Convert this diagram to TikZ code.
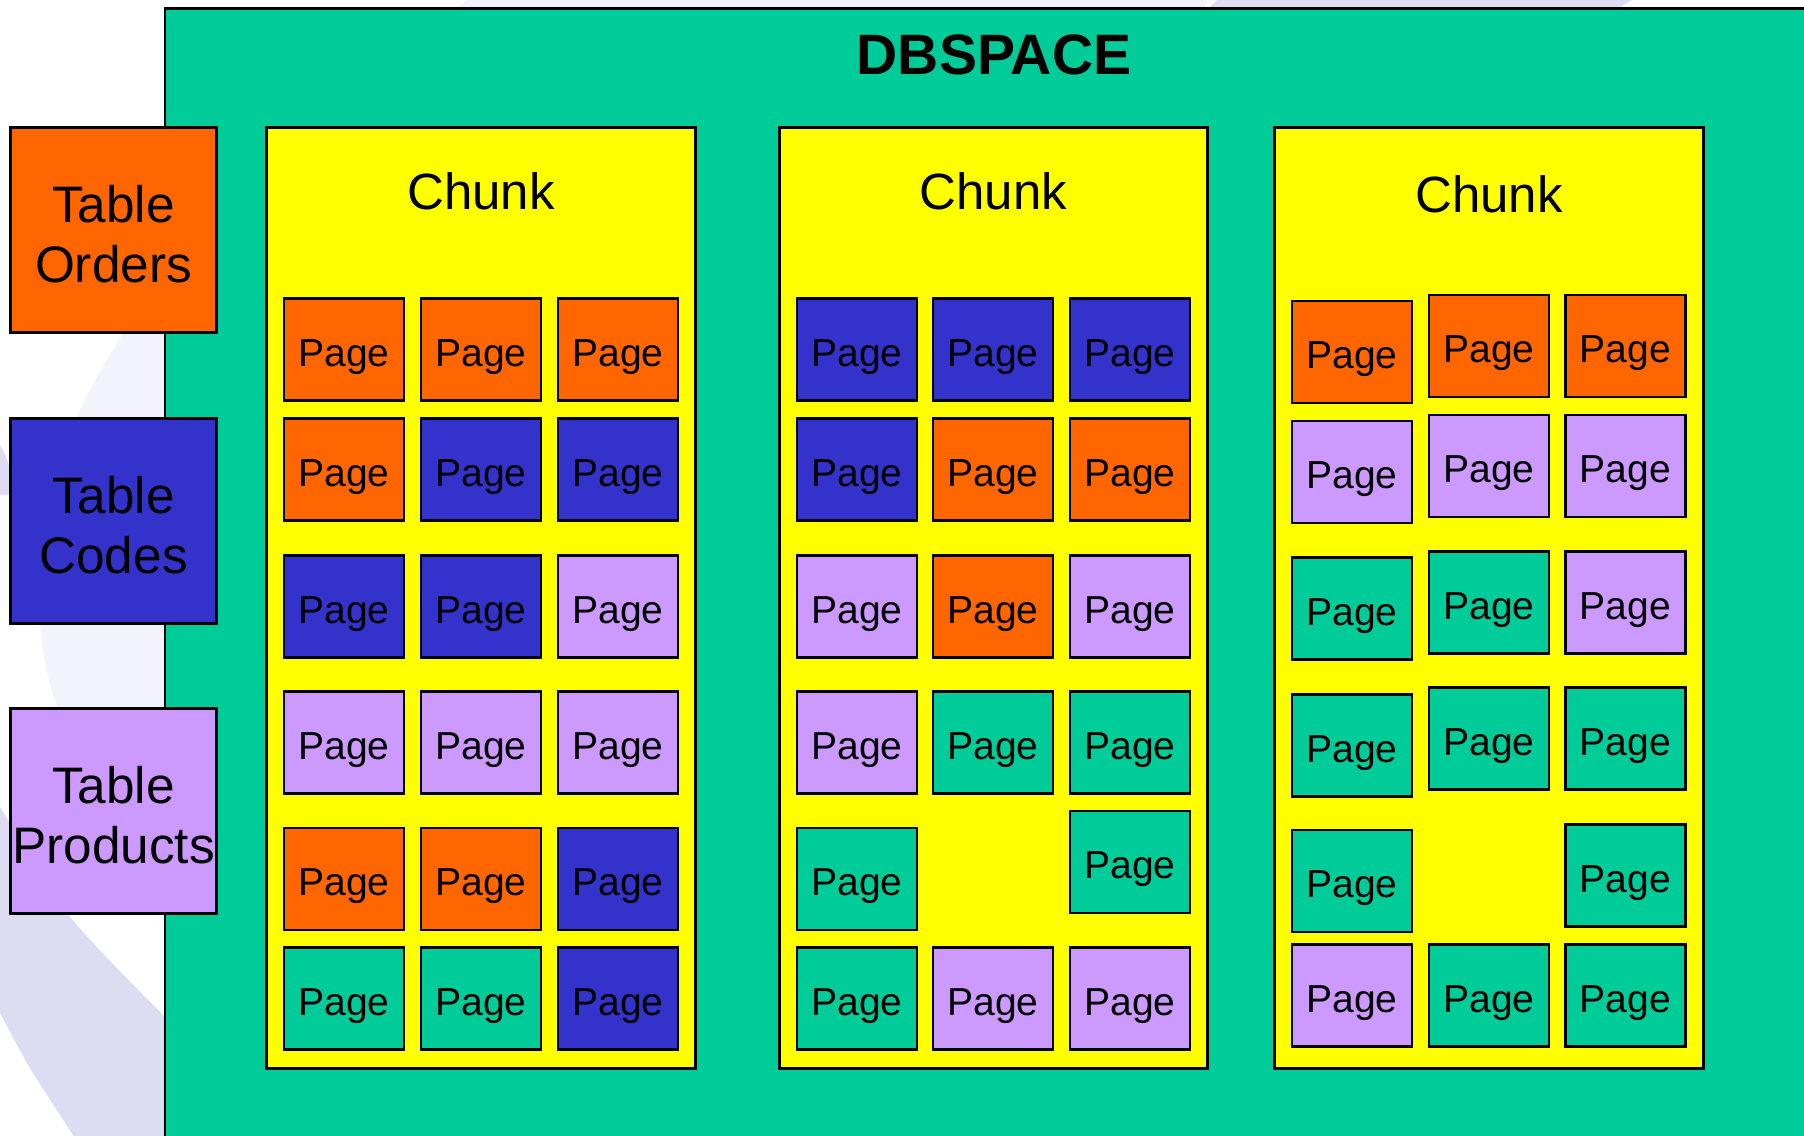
\documentclass[tikz,border=0pt]{standalone}
\usepackage{fontspec}
\setmainfont{Liberation Sans}
\usepackage{xcolor}
\usetikzlibrary{positioning}
\definecolor{ordcol}{HTML}{FF6600}
\definecolor{codcol}{HTML}{3333CC}
\definecolor{prdcol}{HTML}{CC99FF}
\definecolor{spacecol}{HTML}{00CC99}
\definecolor{chunkcol}{HTML}{FFFF00}
\definecolor{bgpale}{HTML}{F3F3FC}
\definecolor{bgdark}{HTML}{DCDCF2}

\begin{document}
\begin{tikzpicture}[
  x=0.01cm, y=-0.01cm,
  page/.style={draw,line width=0.8pt,minimum width=1.2cm,minimum height=1.02cm,inner sep=0pt,text height=9.4pt,text depth=0pt,font=\fontsize{11.1}{13}\selectfont},
  chunkbox/.style={draw,line width=0.85pt,fill=chunkcol,minimum height=9.4cm,inner sep=0pt},
  chunktxt/.style={anchor=base,font=\fontsize{14.5}{17}\selectfont},
  tbl/.style={draw,line width=0.85pt,minimum width=2.05cm,minimum height=2.05cm,inner sep=0pt,align=center,font=\fontsize{14.6}{17.1}\selectfont}
]
  \useasboundingbox (0,0) rectangle (1804,1135);
  \clip (0,0) rectangle (1804,1135);
  \fill[white] (0,0) rectangle (1804,1135);
  % background swooshes
  \fill[bgpale] plot[smooth] coordinates {(500,-20) (300,110) (180,240) (123,333) (77,417) (48,520) (40,623) (58,708) (110,790) (190,870)} -- (900,900) -- (1214,-20) -- cycle;
  \fill[bgdark] (1205,12) -- (1222,-5) -- (1640,-5) -- (1612,12) -- cycle;
  \fill[bgdark] (-5,438) .. controls (6,452) and (12,470) .. (14,495) -- (-5,495) -- cycle;
  \fill[bgdark] plot[smooth] coordinates {(-30,760) (0,807) (67,913) (163,1015) (240,1090)} -- (300,1160) -- plot[smooth] coordinates {(88,1160) (73,1135) (30,1068) (0,1013) (-30,960)} -- cycle;
  % dbspace
  \draw[line width=0.85pt,fill=spacecol] (165,8) rectangle (1840,1170);
  \node[anchor=base,font=\fontsize{16.2}{19}\selectfont\bfseries] (dbs) at (994,74) {DBSPACE};
  % tables
  \node[tbl,fill=ordcol] (tord) at (113.5,230) {\rule{0pt}{12.8pt}Table\\Orders};
  \node[tbl,fill=codcol] (tcod) at (113.5,521) {\rule{0pt}{12.8pt}Table\\Codes};
  \node[tbl,fill=prdcol] (tprd) at (113.5,811) {\rule{0pt}{12.8pt}Table\\Products};
  % chunks
  \node[chunkbox,minimum width=4.28cm] (ch1) at (481,598) {};
  \node[chunkbox,minimum width=4.27cm] (ch2) at (993.5,598) {};
  \node[chunkbox,minimum width=4.28cm] (ch3) at (1489,598) {};
  \node[chunktxt] (ct1) at (ch1.center |- 0,209) {Chunk};
  \node[chunktxt] (ct2) at (ch2.center |- 0,209) {Chunk};
  \node[chunktxt] (ct3) at (ch3.center |- 0,212) {Chunk};
  % pages
  \foreach \px/\py/\pc [count=\i] in {
    344/349.5/ordcol, 481/349.5/ordcol, 618/349.5/ordcol,
    344/469.5/ordcol, 481/469.5/codcol, 618/469.5/codcol,
    344/606.5/codcol, 481/606.5/codcol, 618/606.5/prdcol,
    344/742.5/prdcol, 481/742.5/prdcol, 618/742.5/prdcol,
    344/879/ordcol, 481/879/ordcol, 618/879/codcol,
    344/998.5/spacecol, 481/998.5/spacecol, 618/998.5/codcol,
    857/349.5/codcol, 993/349.5/codcol, 1130/349.5/codcol,
    857/469.5/codcol, 993/469.5/ordcol, 1130/469.5/ordcol,
    857/606.5/prdcol, 993/606.5/ordcol, 1130/606.5/prdcol,
    857/742.5/prdcol, 993/742.5/spacecol, 1130/742.5/spacecol,
    857/879/spacecol, 1130/862/spacecol,
    857/998.5/spacecol, 993/998.5/prdcol, 1130/998.5/prdcol,
    1352/352/ordcol, 1489/346/ordcol, 1625.5/346/ordcol,
    1352/472/prdcol, 1489/466/prdcol, 1625.5/466/prdcol,
    1352/608.5/spacecol, 1489/602.5/spacecol, 1625.5/602.5/prdcol,
    1352/745.5/spacecol, 1489/738.5/spacecol, 1625.5/738.5/spacecol,
    1352/881/spacecol, 1625.5/875.5/spacecol,
    1352/995.5/prdcol, 1489/995.5/spacecol, 1625.5/995.5/spacecol}
    \node[page,fill=\pc] (pg\i) at (\px,\py) {Page};
\end{tikzpicture}
\end{document}
